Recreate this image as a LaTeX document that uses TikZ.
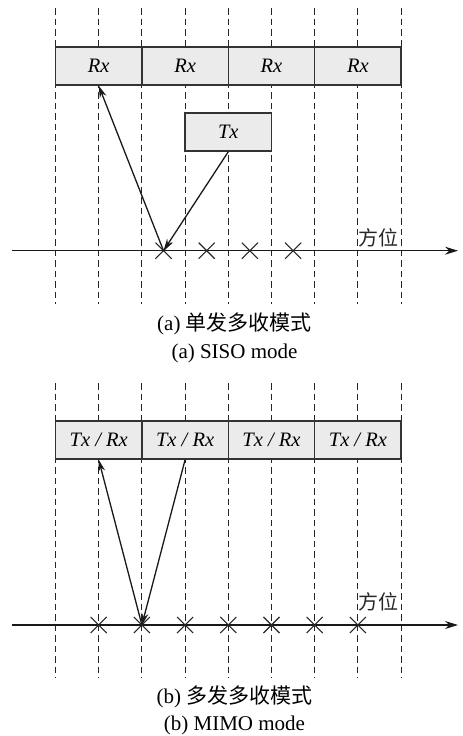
\documentclass[tikz,border=0pt]{standalone}
\usepackage{fontspec}
\setmainfont{Liberation Serif}
\newfontfamily\cjk{Noto Sans CJK SC}
\usetikzlibrary{arrows.meta,shapes.misc}
\begin{document}
\begin{tikzpicture}[x=1pt,y=-1pt,
  grid/.style={dash pattern=on 6.5pt off 4pt, line width=1.1pt, black!85},
  cell/.style={draw=black!80, fill=black!8, line width=1.4pt, minimum width=86.4pt, minimum height=38pt, inner sep=0pt, font=\fontsize{20.5}{24}\selectfont\itshape},
  xmark/.style={cross out, draw=black!85, line width=1.1pt, minimum size=15pt, inner sep=0pt},
  axisline/.style={line width=1.3pt, black!90, -{Stealth[length=13pt,width=8pt]}},
  ray/.style={line width=1.3pt, black!90, -{Stealth[length=12pt,width=7pt]}},
  captext/.style={font=\fontsize{21}{25}\selectfont, inner sep=0pt},
  axlabel/.style={font=\fontsize{20}{24}\selectfont\cjk, inner sep=0pt, text=black!85}
  ]
\useasboundingbox (0,0) rectangle (463,736);
% ---------- (a) ----------
\foreach \i in {0,...,8}
  \draw[grid] ({55.5+43.2*\i},8) -- ({55.5+43.2*\i},304);
\coordinate (aL) at (12,250.7);
\coordinate (aR) at (458,250.7);
\draw[axisline] (aL) -- (aR);
\node[cell] (rx1) at (98.7,66) {Rx};
\node[cell] (rx2) at (185.1,66) {Rx};
\node[cell] (rx3) at (271.5,66) {Rx};
\node[cell] (rx4) at (357.9,66) {Rx};
\node[cell] (tx) at (228.3,132) {Tx};
\node[xmark] (ca1) at (163.5,250.7) {};
\node[xmark] (ca2) at (206.7,250.7) {};
\node[xmark] (ca3) at (249.9,250.7) {};
\node[xmark] (ca4) at (293.1,250.7) {};
\draw[ray] (ca1.center) -- (rx1.south);
\draw[ray] (tx.south) -- (ca1.center);
\node[axlabel] (fa) at (378,238) {方位};
\node[captext] (capa1) at (234.5,324) {(a) {\cjk 单发多收模式}};
\node[captext] (capa2) at (234.5,353) {(a) SISO mode};
% ---------- (b) ----------
\foreach \i in {0,...,8}
  \draw[grid] ({55.5+43.2*\i},383) -- ({55.5+43.2*\i},678);
\coordinate (bL) at (12,625);
\coordinate (bR) at (458,625);
\draw[axisline] (bL) -- (bR);
\node[cell] (trx1) at (98.7,440) {Tx / Rx};
\node[cell] (trx2) at (185.1,440) {Tx / Rx};
\node[cell] (trx3) at (271.5,440) {Tx / Rx};
\node[cell] (trx4) at (357.9,440) {Tx / Rx};
\foreach \k/\xx in {1/98.7,2/141.9,3/185.1,4/228.3,5/271.5,6/314.7,7/357.9}
  \node[xmark] (cb\k) at (\xx,625) {};
\draw[ray] (cb2.center) -- (trx1.south);
\draw[ray] (trx2.south) -- (cb2.center);
\node[axlabel] (fb) at (378,602) {方位};
\node[captext] (capb1) at (234.5,697) {(b) {\cjk 多发多收模式}};
\node[captext] (capb2) at (234.5,725) {(b) MIMO mode};
\end{tikzpicture}
\end{document}
